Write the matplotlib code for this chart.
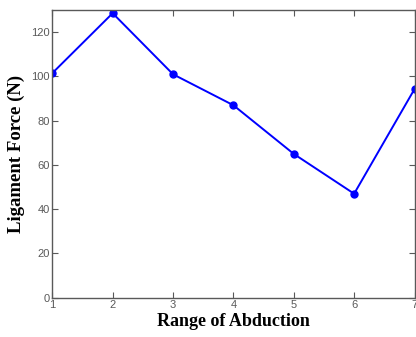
import matplotlib
matplotlib.use("Agg")
import matplotlib.pyplot as plt

abduction = [1, 2, 3, 4, 5, 6, 7]
force = [101.5, 128.6, 101.0, 87.0, 65.0, 47.0, 94.3]
yticks = [0, 20, 40, 60, 80, 100, 120]
xticks = [1, 2, 3, 4, 5, 6, 7]

fig = plt.figure(figsize=(4.16, 3.37), dpi=100)
ax = fig.add_axes([0.1257, 0.1166, 0.8707, 0.8534])
ax.plot(abduction, force, color=(0, 0, 1), linewidth=1.4, marker='o',
        markersize=5, markerfacecolor=(0, 0, 1), markeredgecolor=(0, 0, 1))
ax.set_xlim(1, 7)
ax.set_ylim(0, 130)
ax.set_xticks(xticks)
ax.set_yticks(yticks)
gray = (0.35, 0.35, 0.35)
for s in ax.spines.values():
    s.set_color(gray)
    s.set_linewidth(1.0)
ax.tick_params(direction='in', top=True, right=True, length=4, width=0.8,
               colors=gray, labelsize=8, pad=2)
for lab in ax.get_xticklabels() + ax.get_yticklabels():
    lab.set_family('Liberation Sans')
ax.set_xlabel('Range of Abduction', family='Liberation Serif', fontweight='bold',
              fontsize=13, color='black', labelpad=2)
ax.set_ylabel('Ligament Force (N)', family='Liberation Serif', fontweight='bold',
              fontsize=13.5, color='black', labelpad=4)
fig.savefig('out.png', dpi=100)
